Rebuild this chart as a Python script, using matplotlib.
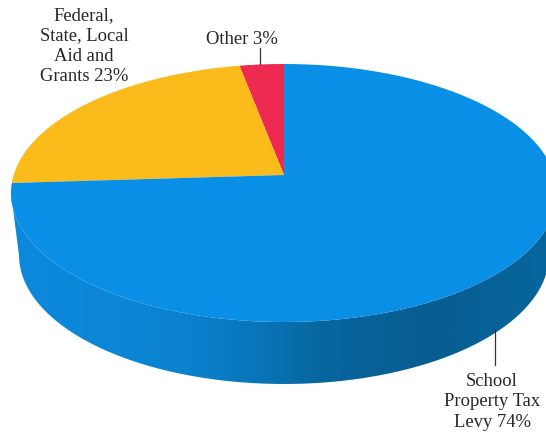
import numpy as np
import matplotlib
matplotlib.use("Agg")
import matplotlib.pyplot as plt
from matplotlib.colors import LinearSegmentedColormap
from matplotlib.path import Path
from matplotlib.patches import PathPatch

# data, anticlockwise from 12 o'clock
categories = ["Other", "Federal, State, Local Aid and Grants", "School Property Tax Levy"]
shares = [3, 23, 74]
colors = ["#EE2A50", "#FBBC1B", "#0A8FE6"]
labels = ["Other 3%", "Federal,\nState, Local\nAid and\nGrants 23%", "School\nProperty Tax\nLevy 74%"]
label_xy = [(242, 39), (84, 46), (492, 402)]
side_stops = [(0.0, "#0C89DC"), (0.2, "#0B86D6"), (0.346, "#0A80CC"), (0.474, "#0873B5"),
              (0.566, "#07669F"), (0.767, "#075D90"), (0.95, "#07659C"), (1.0, "#07659C")]

CX, CY, A, B = 284, 193, 273, 129   # top-face ellipse in pixels
A_BOTTOM = 265                      # lower rim is narrower (perspective)
DEPTH = 62
K = (CY - 175) / B                  # perspective shift of the apex


def project(theta):
    """Perspective map of the unit circle angle (from 12 o'clock, anticlockwise) to pixels."""
    u, v = -np.sin(theta), np.cos(theta)
    d = 1 + K * v
    X = u * np.sqrt(1 - K ** 2) / d
    Y = (v + K) / d
    return CX + A * X, CY - B * Y


fig = plt.figure(figsize=(5.46, 4.33), dpi=100)
ax = fig.add_axes([0, 0, 1, 1])
ax.set_xlim(0, 546)
ax.set_ylim(433, 0)
ax.axis("off")
plt.rcParams["font.family"] = ["Liberation Serif", "DejaVu Serif"]

# side wall
t = np.linspace(0, np.pi, 200)
ex, ey = CX - A * np.cos(t), CY + B * np.sin(t)
bx, by = CX - A_BOTTOM * np.cos(t), CY + DEPTH + B * np.sin(t)
vx = np.r_[ex, bx[::-1]]
vy = np.r_[ey, by[::-1]]
side_path = Path(np.c_[vx, vy])
cmap = LinearSegmentedColormap.from_list("side", side_stops)
im = ax.imshow(np.linspace(0, 1, 512)[None, :], cmap=cmap, aspect="auto",
               extent=(11, 557, 433, 0), zorder=1)
clip = PathPatch(side_path, fc="none", ec="none", transform=ax.transData)
ax.add_patch(clip)
im.set_clip_path(clip)
ax.set_xlim(0, 546)
ax.set_ylim(433, 0)

# top face slices
fractions = np.cumsum([0] + shares) / sum(shares)
apex_x, apex_y = CX, CY - B * K
for i, c in enumerate(colors):
    th = 2 * np.pi * np.linspace(fractions[i], fractions[i + 1], 240)
    px, py = project(th)
    ax.fill(np.r_[apex_x, px], np.r_[apex_y, py], color=c, lw=0, zorder=2)

# leader lines
ax.plot([260, 260], [48, 64], color="#333333", lw=0.9, zorder=3)
ax.plot([495, 495], [330, 365], color="#333333", lw=0.9, zorder=3)

for text, (x, y) in zip(labels, label_xy):
    ax.text(x, y, text, ha="center", va="center", fontsize=13.4, color="#262626",
            linespacing=1.24, zorder=4)

fig.savefig("out.png", dpi=100)
